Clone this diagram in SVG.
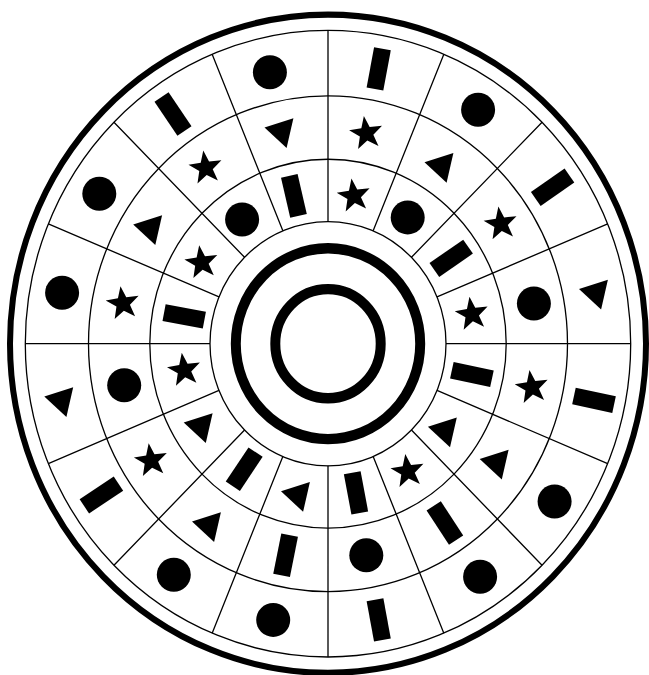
<svg xmlns="http://www.w3.org/2000/svg" width="649" height="675" viewBox="0 0 649 675">
<style>
.thin{fill:none;stroke:#000;stroke-width:1.3}
.thick{fill:none;stroke:#000}
.sp{fill:none;stroke:#000;stroke-width:1.3}
</style>
<defs>
<rect id="bar" x="-8.5" y="-20.5" width="17" height="41"/>
<circle id="dot" r="17"/>
<path id="tri" d="M-17,-3.7 L11.9,-13 L5.1,16.8 Z"/>
<path id="star" d="M0,-17.5 L4.2,-5.8 L16.6,-5.4 L6.8,2.2 L10.3,14.2 L0,7.2 L-10.3,14.2 L-6.8,2.2 L-16.6,-5.4 L-4.2,-5.8 Z"/>
</defs>
<rect width="649" height="675" fill="#fff"/>
<g id="rings" transform="translate(328,343.7) scale(1,1.035)">
<circle class="thick" r="318" stroke-width="6"/>
<circle class="thin" r="302.7"/>
<circle class="thin" r="239.5"/>
<circle class="thin" r="178.2"/>
<circle class="thin" r="118"/>
<circle class="thick" r="92.2" stroke-width="10"/>
<circle class="thick" r="52.7" stroke-width="10"/>
</g>
<g id="connectors" transform="translate(328,343.7) scale(1,1.035)">
<path class="sp" d="M0,-118L0,-302.7 M45.16,-109.02L115.84,-279.66 M83.44,-83.44L214.04,-214.04 M109.02,-45.16L279.66,-115.84 M118,0L302.7,0 M109.02,45.16L279.66,115.84 M83.44,83.44L214.04,214.04 M45.16,109.02L115.84,279.66 M0,118L0,302.7 M-45.16,109.02L-115.84,279.66 M-83.44,83.44L-214.04,214.04 M-109.02,45.16L-279.66,115.84 M-118,0L-302.7,0 M-109.02,-45.16L-279.66,-115.84 M-83.44,-83.44L-214.04,-214.04 M-45.16,-109.02L-115.84,-279.66"/>
</g>
<g id="outer-ring">
<use href="#bar" transform="translate(378.7,68.9) rotate(10.5)"/>
<use href="#dot" transform="translate(478.1,109.8)"/>
<use href="#bar" transform="translate(552.6,187.3) rotate(55.2)"/>
<use href="#tri" transform="translate(596,292.7)"/>
<use href="#bar" transform="translate(594,400.3) rotate(102)"/>
<use href="#dot" transform="translate(554.6,501.5)"/>
<use href="#dot" transform="translate(480.1,576.8)"/>
<use href="#bar" transform="translate(378.7,619.9) rotate(169.6)"/>
<use href="#dot" transform="translate(273.2,619.9)"/>
<use href="#dot" transform="translate(173.8,574.7)"/>
<use href="#bar" transform="translate(101.4,495) rotate(-123.7)"/>
<use href="#tri" transform="translate(61.3,400.3)"/>
<use href="#dot" transform="translate(62.1,292.7)"/>
<use href="#dot" transform="translate(99.3,193.7)"/>
<use href="#bar" transform="translate(173,114.1) rotate(-34)"/>
<use href="#dot" transform="translate(269.9,72.3)"/>
</g>
<g id="middle-ring">
<use href="#star" transform="translate(366.3,133.4) rotate(-8)"/>
<use href="#tri" transform="translate(441.5,166)"/>
<use href="#star" transform="translate(500.8,223.8) rotate(-8)"/>
<use href="#dot" transform="translate(533.9,303.5)"/>
<use href="#star" transform="translate(531.9,387.4) rotate(-8)"/>
<use href="#tri" transform="translate(496.7,462.8)"/>
<use href="#bar" transform="translate(444.9,523) rotate(146.9)"/>
<use href="#dot" transform="translate(366.3,555.3)"/>
<use href="#bar" transform="translate(285.6,555.3) rotate(-168.7)"/>
<use href="#tri" transform="translate(209,525.2)"/>
<use href="#star" transform="translate(151.1,460.6) rotate(-8)"/>
<use href="#dot" transform="translate(124.2,385.3)"/>
<use href="#star" transform="translate(122.9,303.5) rotate(-8)"/>
<use href="#tri" transform="translate(150.2,228.2)"/>
<use href="#star" transform="translate(205.7,167.9) rotate(-8)"/>
<use href="#tri" transform="translate(281.5,131.3)"/>
</g>
<g id="inner-ring">
<use href="#star" transform="translate(353.9,195.9) rotate(-8)"/>
<use href="#dot" transform="translate(407.7,217.4)"/>
<use href="#bar" transform="translate(451.2,258.3) rotate(55.3)"/>
<use href="#star" transform="translate(471.9,314.2) rotate(-8)"/>
<use href="#bar" transform="translate(471.9,374.5) rotate(102.1)"/>
<use href="#tri" transform="translate(444.9,430.5)"/>
<use href="#star" transform="translate(407.7,471.4) rotate(-8)"/>
<use href="#bar" transform="translate(356,492.9) rotate(169.4)"/>
<use href="#tri" transform="translate(298,495)"/>
<use href="#bar" transform="translate(244.2,469.2) rotate(-146.3)"/>
<use href="#tri" transform="translate(200.7,426.2)"/>
<use href="#star" transform="translate(184.2,370.2) rotate(-8)"/>
<use href="#bar" transform="translate(184.2,316.4) rotate(-79.25)"/>
<use href="#star" transform="translate(201.6,262.6) rotate(-8)"/>
<use href="#dot" transform="translate(242.1,219.5)"/>
<use href="#bar" transform="translate(293.9,195.9) rotate(-13)"/>
</g>
</svg>
